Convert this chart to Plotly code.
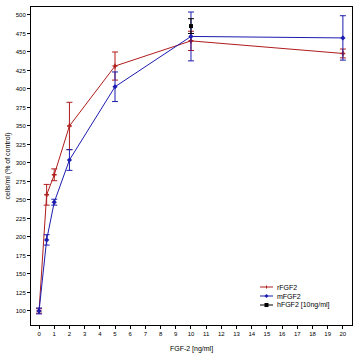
import plotly.graph_objects as go

doses = [0, 0.5, 1, 2, 5, 10, 20]
r_vals = [100, 257, 284, 350, 431, 465, 448]
r_err = [3, 14, 8, 32, 19, 13, 6]
m_vals = [100, 196, 247, 304, 403, 471, 469]
m_err = [4, 7, 4, 14, 20, 33, 30]
h_x = [10]
h_vals = [485]
h_err = [10]

x_ticks = list(range(0, 21))
y_ticks = list(range(100, 501, 25))

series_names = ["rFGF2", "mFGF2", "hFGF2 [10ng/ml]"]

RED = "#b01c1c"
BLUE = "#1c1cb0"
BLACK = "#000000"
FONT = "Liberation Sans"

W, H = 361, 358
ML, MR, MT, MB = 31, 9, 7, 33
PW, PH = W - ML - MR, H - MT - MB

fig = go.Figure()
fig.add_trace(go.Scatter(
    x=doses, y=r_vals, name=series_names[0], mode="lines+markers",
    line=dict(color=RED, width=1), marker=dict(symbol="cross", size=4, color=RED),
    error_y=dict(type="data", array=r_err, color=RED, thickness=1, width=3)))
fig.add_trace(go.Scatter(
    x=doses, y=m_vals, name=series_names[1], mode="lines+markers",
    line=dict(color=BLUE, width=1), marker=dict(symbol="diamond", size=4, color=BLUE),
    error_y=dict(type="data", array=m_err, color=BLUE, thickness=1, width=3)))
fig.add_trace(go.Scatter(
    x=h_x, y=h_vals, name=series_names[2], mode="lines+markers",
    line=dict(color=BLACK, width=1), marker=dict(symbol="square", size=4, color=BLACK),
    error_y=dict(type="data", array=h_err, color=BLACK, thickness=1, width=3)))

# manual compact legend (Plotly's legend rows are too tall for this size)
def px_x(p):
    return (p - ML) / PW

def px_y(p):
    return (MT + PH - p) / PH

shapes = []
annotations = []
leg_rows = [287, 296, 305]
colors = [RED, BLUE, BLACK]
for i, (name, col, ry) in enumerate(zip(series_names, colors, leg_rows)):
    shapes.append(dict(type="line", xref="paper", yref="paper",
                       x0=px_x(260), x1=px_x(273), y0=px_y(ry), y1=px_y(ry),
                       line=dict(color=col, width=1)))
    cx, cy = 266.5, ry
    if i == 0:
        shapes.append(dict(type="line", xref="paper", yref="paper",
                           x0=px_x(cx), x1=px_x(cx), y0=px_y(cy - 1.5), y1=px_y(cy + 1.5),
                           line=dict(color=col, width=1)))
    elif i == 1:
        path = "M {} {} L {} {} L {} {} L {} {} Z".format(
            px_x(cx - 2), px_y(cy), px_x(cx), px_y(cy - 2),
            px_x(cx + 2), px_y(cy), px_x(cx), px_y(cy + 2))
        shapes.append(dict(type="path", xref="paper", yref="paper", path=path,
                           fillcolor=col, line=dict(color=col, width=0)))
    else:
        shapes.append(dict(type="rect", xref="paper", yref="paper",
                           x0=px_x(cx - 2), x1=px_x(cx + 2), y0=px_y(cy - 2), y1=px_y(cy + 2),
                           fillcolor=col, line=dict(color=col, width=0)))
    annotations.append(dict(text=name, xref="paper", yref="paper",
                            x=px_x(275), y=px_y(ry), xanchor="left", yanchor="middle",
                            showarrow=False, font=dict(size=7, family=FONT, color="black")))

fig.update_layout(
    width=W, height=H,
    margin=dict(l=ML, r=MR, t=MT, b=MB),
    paper_bgcolor="white", plot_bgcolor="white",
    font=dict(family=FONT, size=6, color="black"),
    showlegend=False,
    shapes=shapes, annotations=annotations,
)
fig.update_xaxes(
    range=[-0.53, 20.6], tickvals=x_ticks, ticktext=[str(v) for v in x_ticks],
    showgrid=False, zeroline=False, showline=True, linecolor="black", linewidth=1,
    mirror=True, ticks="outside", ticklen=3, tickcolor="black", automargin=False,
    title=dict(text="FGF-2 [ng/ml]", font=dict(size=7), standoff=9),
    tickfont=dict(size=6))
fig.update_yaxes(
    range=[81, 510.8], tickvals=y_ticks, ticktext=[str(v) for v in y_ticks],
    showgrid=False, zeroline=False, showline=True, linecolor="black", linewidth=1,
    mirror=True, ticks="outside", ticklen=3, tickcolor="black", automargin=False,
    title=dict(text="cells/ml (% of control)", font=dict(size=7), standoff=4),
    tickfont=dict(size=6))

fig.write_html("out.html", post_script="document.body.style.margin='0';",
               config={"displayModeBar": False})
